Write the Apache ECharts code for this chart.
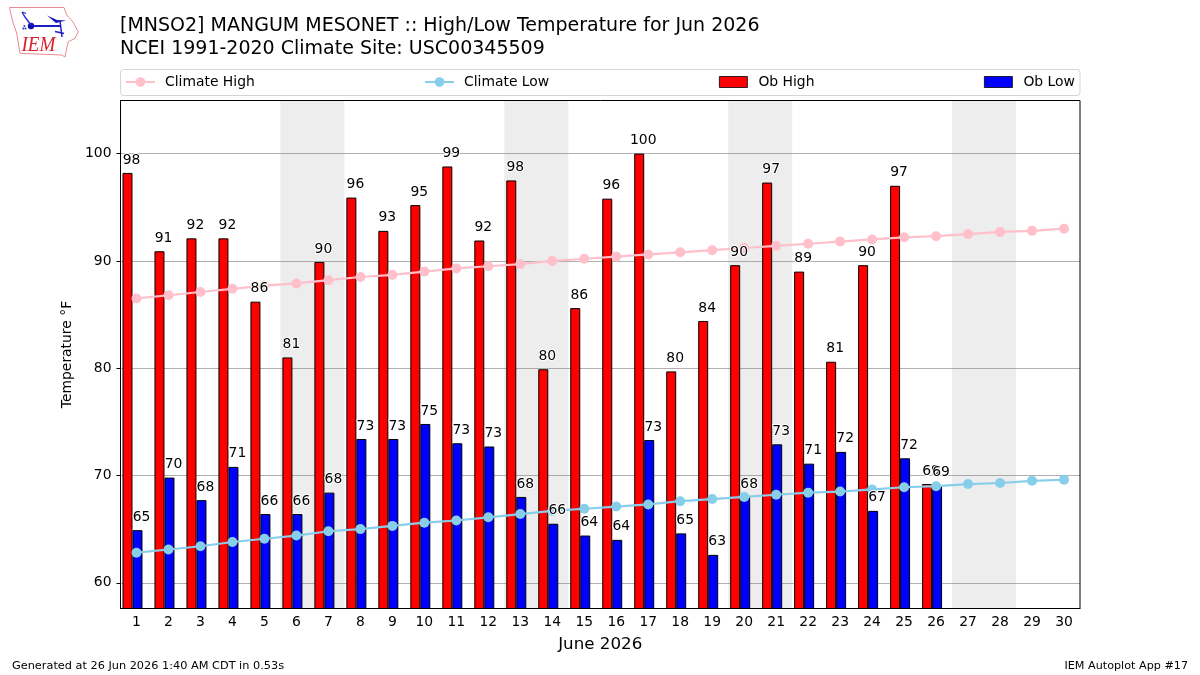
<!DOCTYPE html>
<html>
<head>
<meta charset="utf-8">
<style>html,body{margin:0;padding:0;background:#fff}#chart{width:1200px;height:675px}</style>
<script src="https://cdn.jsdelivr.net/npm/echarts@6/dist/echarts.min.js"></script>
</head>
<body>
<div id="chart"></div>
<script>
// June 2026 daily temperatures (°F) at MNSO2
const days = ['1','2','3','4','5','6','7','8','9','10','11','12','13','14','15','16','17','18','19','20','21','22','23','24','25','26','27','28','29','30'];
const obHigh = [98.2,90.9,92.1,92.1,86.2,81.0,89.9,95.9,92.8,95.2,98.8,91.9,97.5,79.9,85.6,95.8,100.0,79.7,84.4,89.6,97.3,89.0,80.6,89.6,97.0,69.2];
const obLow = [64.9,69.8,67.7,70.8,66.4,66.4,68.4,73.4,73.4,74.8,73.0,72.7,68.0,65.5,64.4,64.0,73.3,64.6,62.6,68.0,72.9,71.1,72.2,66.7,71.6,69.1];
const climateHigh = [86.5,86.8,87.1,87.4,87.7,87.9,88.2,88.5,88.7,89.0,89.3,89.5,89.7,90.0,90.2,90.4,90.6,90.8,91.0,91.2,91.4,91.6,91.8,92.0,92.2,92.3,92.5,92.7,92.8,93.0];
const climateLow = [62.8,63.1,63.4,63.8,64.1,64.4,64.8,65.0,65.3,65.6,65.8,66.1,66.4,66.7,66.9,67.1,67.3,67.6,67.8,68.0,68.2,68.4,68.5,68.7,68.9,69.0,69.2,69.3,69.5,69.6];
const yTicks = [60,70,80,90,100];
// Weekend shading, start and end of each Saturday-Sunday span on the day scale
const weekends = [[5.5,7.5],[12.5,14.5],[19.5,21.5],[26.5,28.5]];

const FONT = 'DejaVu Sans';
const INK = '#000';
const chart = echarts.init(document.getElementById('chart'));

// Value labels sit above the climate lines, so they get their own top layer
const valueLabels = (name, data, shift) => ({
  name, type: 'scatter', data, z: 4, symbolSize: 0.01, silent: true,
  itemStyle: { color: 'transparent', opacity: 1 },
  label: {
    show: true, position: 'top', distance: 6, offset: [shift, 0],
    fontFamily: FONT, fontSize: 13.9, color: INK,
    textBorderColor: '#fff', textBorderWidth: 2,
    formatter: p => String(Math.round(p.value))
  }
});
const legendBase = {
  padding: 0, itemWidth: 29,
  textStyle: { fontFamily: FONT, fontSize: 13.9, color: INK, padding: [0, 0, 0, 5] }
};
const lineLegend = Object.assign({ top: 75, itemHeight: 12 }, legendBase);
const barLegend = Object.assign({ top: 75, icon: 'rect', itemHeight: 11, itemStyle: { borderWidth: 0.8 } }, legendBase, {
  itemWidth: 28,
  textStyle: { fontFamily: FONT, fontSize: 13.9, color: INK, padding: [0, 0, 0, 6] }
});

chart.setOption({
  animation: false,
  backgroundColor: '#fff',
  title: {
    left: 120, top: 15, padding: 0,
    text: '[MNSO2] MANGUM MESONET :: High/Low Temperature for Jun 2026\nNCEI 1991-2020 Climate Site: USC00345509',
    textStyle: { fontFamily: FONT, fontSize: 19, fontWeight: 'normal', color: INK, lineHeight: 23 }
  },
  legend: [
    Object.assign({ left: 125, data: ['Climate High'] }, lineLegend),
    Object.assign({ left: 424, data: ['Climate Low'] }, lineLegend),
    Object.assign({ left: 719, data: ['Ob High'] }, barLegend),
    Object.assign({ left: 984, data: ['Ob Low'] }, barLegend)
  ],
  grid: { left: 120.5, top: 100.5, width: 959.5, height: 508, show: true, borderColor: '#000', borderWidth: 1, backgroundColor: 'transparent', z: 5 },
  xAxis: [
    {
      type: 'category', data: days, boundaryGap: true,
      axisLine: { show: true, lineStyle: { color: '#000' } },
      axisTick: { alignWithLabel: true, length: 4, lineStyle: { color: '#000' } },
      axisLabel: { interval: 0, margin: 7, fontFamily: FONT, fontSize: 13.9, color: INK },
      name: 'June 2026', nameLocation: 'middle', nameGap: 28,
      nameTextStyle: { fontFamily: FONT, fontSize: 16.7, color: INK },
      splitLine: { show: false }
    },
    // Continuous day scale used only to place the weekend spans between ticks
    { type: 'value', min: 0.5, max: 30.5, show: false }
  ],
  yAxis: {
    type: 'value', min: 57.6, max: 104.95,
    axisLine: { show: true, lineStyle: { color: '#000' } },
    axisTick: { show: true, length: 4, lineStyle: { color: '#000' }, customValues: yTicks },
    axisLabel: { margin: 9, fontFamily: FONT, fontSize: 13.9, color: INK, customValues: yTicks },
    splitLine: { show: true, lineStyle: { color: '#b0b0b0', width: 1 } },
    name: 'Temperature °F', nameLocation: 'middle', nameGap: 40, nameRotate: 90,
    nameTextStyle: { fontFamily: FONT, fontSize: 13.9, color: INK }
  },
  series: [
    {
      name: 'weekends', type: 'line', xAxisIndex: 1, data: [], z: 1,
      markArea: {
        silent: true, z: 1,
        itemStyle: { color: 'rgba(128,128,128,0.14)' },
        data: weekends.map(w => [{ xAxis: w[0] }, { xAxis: w[1] }])
      }
    },
    {
      name: 'Ob High', type: 'bar', data: obHigh, barWidth: 10, barGap: 0, z: 2,
      itemStyle: { color: '#ff0000', borderColor: '#000', borderWidth: 1 }
    },
    {
      name: 'Ob Low', type: 'bar', data: obLow, barWidth: 10, barGap: 0, z: 2,
      itemStyle: { color: '#0000ff', borderColor: '#000', borderWidth: 1 }
    },
    // Empty slot that pushes each day's bar pair to the left of its tick
    { name: 'slot', type: 'bar', data: [], barWidth: 8, barGap: 0 },
    {
      name: 'Climate High', type: 'line', data: climateHigh, z: 3,
      symbol: 'circle', symbolSize: 10,
      lineStyle: { color: '#ffc0cb', width: 2.2 }, itemStyle: { color: '#ffc0cb' }
    },
    {
      name: 'Climate Low', type: 'line', data: climateLow, z: 3,
      symbol: 'circle', symbolSize: 10,
      lineStyle: { color: '#87ceeb', width: 2.2 }, itemStyle: { color: '#87ceeb' }
    },
    valueLabels('Ob High values', obHigh, -5),
    valueLabels('Ob Low values', obLow, 5)
  ],
  graphic: [
    { type: 'rect', z: -1, shape: { x: 120.5, y: 69.5, width: 959.5, height: 26, r: 3 }, style: { fill: '#fff', stroke: '#d4d4d4', lineWidth: 1 } },
    { type: 'text', left: 12, top: 661, style: { text: 'Generated at 26 Jun 2026 1:40 AM CDT in 0.53s', font: '11.3px "DejaVu Sans"', fill: INK } },
    { type: 'text', right: 12, top: 661, style: { text: 'IEM Autoplot App #17', font: '11.2px "DejaVu Sans"', fill: INK } },
    // Site logo: state outline, wind vane and initials
    { type: 'polygon', shape: { points: [[9.5,7.5],[64,7.5],[66.7,15],[72.7,21.7],[78.3,31.7],[75,38.3],[68.3,41.7],[66.7,48.3],[65,57],[61.7,55],[20,53.3],[16.7,33],[12.7,21.7]] }, style: { fill: '#fff', stroke: '#e88a90', lineWidth: 1 } },
    { type: 'line', shape: { x1: 31, y1: 26, x2: 60, y2: 26 }, style: { stroke: '#1c1cc8', lineWidth: 2 } },
    { type: 'circle', shape: { cx: 31, cy: 26, r: 3.2 }, style: { fill: '#1010b0' } },
    { type: 'polyline', shape: { points: [[22,12],[25,17],[31,25]] }, style: { stroke: '#2a2ad0', lineWidth: 1.4, fill: 'none' } },
    { type: 'polyline', shape: { points: [[22,12],[26,13.5]] }, style: { stroke: '#2a2ad0', lineWidth: 1.2, fill: 'none' } },
    { type: 'polygon', shape: { points: [[47,15.5],[57,20],[66,20.5],[56,23]] }, style: { fill: '#1414b8' } },
    { type: 'line', shape: { x1: 60, y1: 21, x2: 62, y2: 37 }, style: { stroke: '#2020c8', lineWidth: 1.5 } },
    { type: 'line', shape: { x1: 55, y1: 31.5, x2: 64, y2: 33.5 }, style: { stroke: '#2020c8', lineWidth: 1.5 } },
    { type: 'circle', shape: { cx: 23.3, cy: 28.5, r: 1 }, style: { fill: '#3030c8' } },
    { type: 'circle', shape: { cx: 25.5, cy: 28.5, r: 1 }, style: { fill: '#3030c8' } },
    { type: 'circle', shape: { cx: 24.4, cy: 26, r: 1 }, style: { fill: '#3030c8' } },
    { type: 'text', x: 21.5, y: 34, scaleX: 0.87, style: { text: 'IEM', font: 'italic 22px "Liberation Serif"', fill: '#d8202c' } }
  ]
});
</script>
</body>
</html>
